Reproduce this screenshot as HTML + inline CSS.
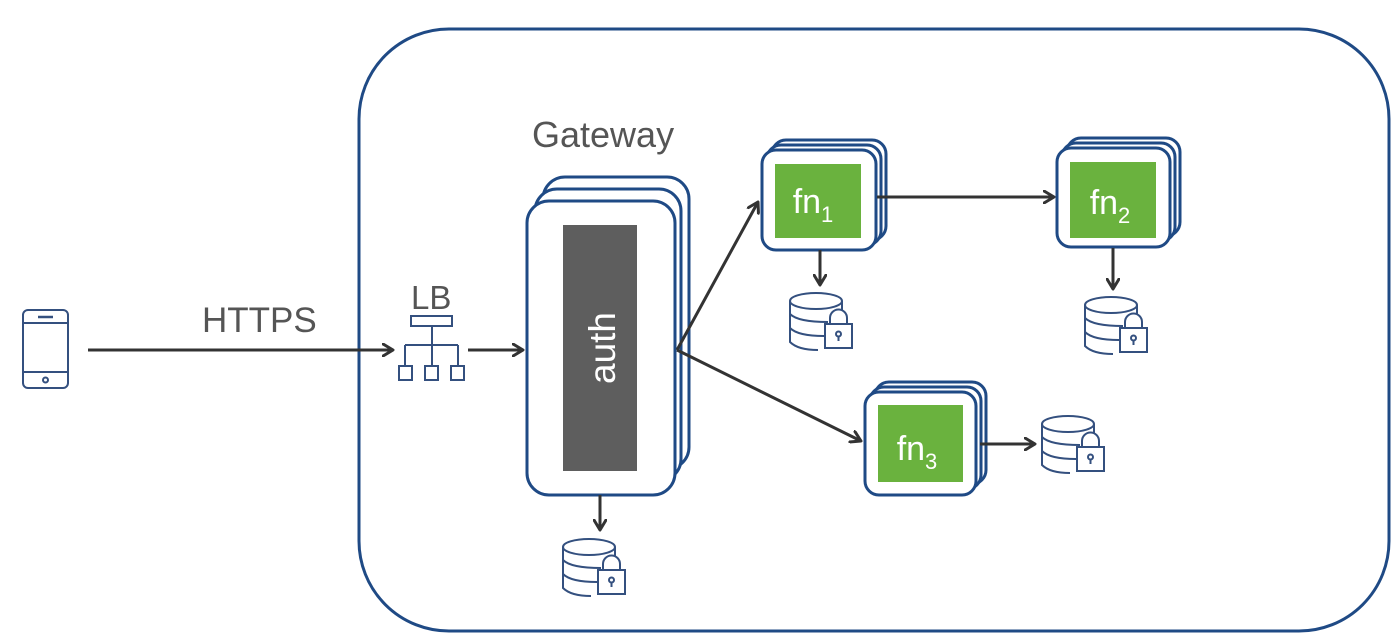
<!DOCTYPE html>
<html><head><meta charset="utf-8"><style>
html,body{margin:0;padding:0;background:#fff;}
svg{display:block;}
text{font-family:"Liberation Sans",Arial,sans-serif;}
</style></head><body>
<svg width="1400" height="639" viewBox="0 0 1400 639" xmlns="http://www.w3.org/2000/svg">
<defs>
<marker id="ah" markerWidth="14" markerHeight="14" refX="11" refY="7" orient="auto" markerUnits="userSpaceOnUse">
<path d="M1,1 L11,7 L1,13" fill="none" stroke="#333" stroke-width="3" stroke-linejoin="round" stroke-linecap="round"/>
</marker>
<g id="db" fill="none" stroke="#34507f" stroke-width="2">
<ellipse cx="26" cy="9" rx="26" ry="8" fill="#fff"/>
<path d="M0 9 V50 Q8 58 28 58"/>
<path d="M52 9 V18"/>
<path d="M0 22 Q8 30 38 30"/>
<path d="M0 36 Q8 44 34 44"/>
<rect x="35" y="32" width="27" height="24" fill="#fff"/>
<path d="M40 32 V26 a8.5 8.5 0 0 1 17 0 V32"/>
<circle cx="48.5" cy="42" r="2.5"/>
<path d="M48.5 44 V49"/>
</g>
</defs>
<rect x="359" y="29" width="1030" height="602" rx="90" ry="90" fill="none" stroke="#1f4a85" stroke-width="3"/>
<g fill="none" stroke="#34507f" stroke-width="2">
<rect x="23" y="310" width="45" height="78" rx="5"/>
<line x1="23" y1="323" x2="68" y2="323"/>
<line x1="23" y1="372" x2="68" y2="372"/>
<line x1="38" y1="317" x2="53" y2="317" stroke-width="2.5"/>
<circle cx="45.5" cy="380" r="2.5"/>
</g>
<text x="202" y="332" font-size="35" fill="#555">HTTPS</text>
<line x1="88" y1="350" x2="393" y2="350" stroke="#333" stroke-width="3" marker-end="url(#ah)"/>
<text x="411" y="309" font-size="33" fill="#555">LB</text>
<g fill="none" stroke="#34507f" stroke-width="2">
<rect x="411" y="316" width="41" height="10"/>
<path d="M432 326 V345 M405 345 H458 M405 345 V365 M432 345 V365 M458 345 V365"/>
<rect x="399" y="366" width="13" height="14"/>
<rect x="425" y="366" width="13" height="14"/>
<rect x="451" y="366" width="13" height="14"/>
</g>
<line x1="468" y1="350" x2="523" y2="350" stroke="#333" stroke-width="3" marker-end="url(#ah)"/>
<text x="532" y="147" font-size="36" fill="#555">Gateway</text>
<g fill="#fff" stroke="#1f4a85" stroke-width="3">
<rect x="543" y="177" width="146" height="292" rx="22"/>
<rect x="535" y="189" width="146" height="292" rx="22"/>
<rect x="527" y="201" width="148" height="294" rx="22"/>
</g>
<rect x="563" y="225" width="74" height="246" fill="#5e5e5e"/>
<text transform="translate(615,348) rotate(-90)" text-anchor="middle" font-size="37" fill="#fff">auth</text>
<line x1="600" y1="495" x2="600" y2="530" stroke="#333" stroke-width="3" marker-end="url(#ah)"/>
<use href="#db" x="563" y="538"/>
<line x1="677" y1="350" x2="758" y2="202" stroke="#333" stroke-width="3" marker-end="url(#ah)"/>
<line x1="677" y1="350" x2="861" y2="441" stroke="#333" stroke-width="3" marker-end="url(#ah)"/>
<g fill="#fff" stroke="#1f4a85" stroke-width="3">
<rect x="772" y="140" width="114" height="100" rx="14"/>
<rect x="767" y="145" width="114" height="100" rx="14"/>
<rect x="762" y="150" width="114" height="100" rx="14"/>
</g>
<rect x="775" y="164" width="86" height="74" fill="#6ab23e"/>
<text x="813" y="213" text-anchor="middle" font-size="34" fill="#fff">fn<tspan font-size="22" dy="9">1</tspan></text>
<line x1="877" y1="197" x2="1054" y2="197" stroke="#333" stroke-width="3" marker-end="url(#ah)"/>
<line x1="820" y1="250" x2="820" y2="285" stroke="#333" stroke-width="3" marker-end="url(#ah)"/>
<use href="#db" x="790" y="292"/>
<g fill="#fff" stroke="#1f4a85" stroke-width="3">
<rect x="1067" y="138" width="113" height="98" rx="14"/>
<rect x="1062" y="143" width="113" height="98" rx="14"/>
<rect x="1057" y="148" width="113" height="99" rx="14"/>
</g>
<rect x="1070" y="162" width="86" height="76" fill="#6ab23e"/>
<text x="1110" y="214" text-anchor="middle" font-size="34" fill="#fff">fn<tspan font-size="22" dy="9">2</tspan></text>
<line x1="1113" y1="248" x2="1113" y2="289" stroke="#333" stroke-width="3" marker-end="url(#ah)"/>
<use href="#db" x="1085" y="296"/>
<g fill="#fff" stroke="#1f4a85" stroke-width="3">
<rect x="875" y="382" width="111" height="102" rx="14"/>
<rect x="870" y="387" width="111" height="102" rx="14"/>
<rect x="865" y="392" width="111" height="103" rx="14"/>
</g>
<rect x="878" y="405" width="85" height="77" fill="#6ab23e"/>
<text x="917" y="460" text-anchor="middle" font-size="34" fill="#fff">fn<tspan font-size="22" dy="9">3</tspan></text>
<line x1="980" y1="444" x2="1035" y2="444" stroke="#333" stroke-width="3" marker-end="url(#ah)"/>
<use href="#db" x="1042" y="415"/>
</svg>
</body></html>
